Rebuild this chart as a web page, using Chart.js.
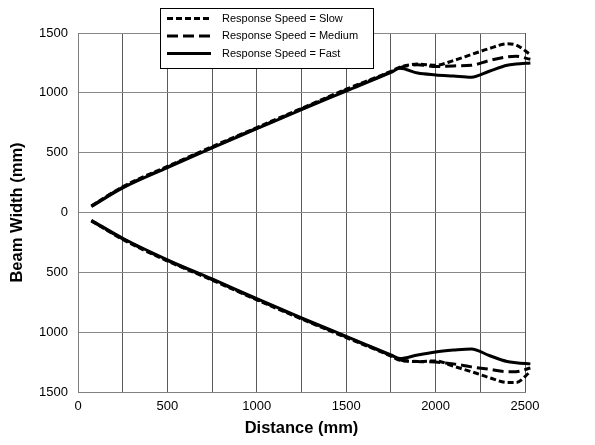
<!DOCTYPE html>
<html>
<head>
<meta charset="utf-8">
<script src="https://cdn.jsdelivr.net/npm/chart.js@4"></script>
<style>
    html, body { margin: 0; padding: 0; background: #fff; }
    #wrap { width: 595px; height: 445px; }
</style>
</head>
<body>
<div id="wrap"><canvas id="beam" width="595" height="445"></canvas></div>
<script>
// distance (mm) where the curves were read
var distance = [75, 250, 500, 750, 1000, 1250, 1500, 1750, 1800, 1900, 2000, 2100, 2200, 2300, 2400, 2450, 2530];

// beam edge, positive side
var slowUpper   = [55, 215, 385, 550, 710, 870, 1030, 1180, 1215, 1240, 1230, 1270, 1320, 1370, 1410, 1400, 1320];
var mediumUpper = [55, 210, 380, 545, 705, 865, 1025, 1175, 1210, 1235, 1220, 1225, 1230, 1270, 1300, 1305, 1280];
var fastUpper   = [50, 205, 375, 540, 700, 860, 1015, 1170, 1205, 1165, 1150, 1140, 1130, 1180, 1230, 1240, 1250];

// beam edge, negative side
var slowLower   = [-70, -225, -405, -565, -730, -890, -1045, -1200, -1235, -1245, -1240, -1285, -1330, -1380, -1420, -1420, -1330];
var mediumLower = [-70, -220, -400, -560, -725, -885, -1040, -1195, -1230, -1245, -1250, -1265, -1290, -1310, -1330, -1330, -1300];
var fastLower   = [-65, -215, -395, -555, -720, -880, -1035, -1190, -1220, -1190, -1165, -1150, -1140, -1195, -1245, -1255, -1265];

var seriesNames = ["Response Speed = Slow", "Response Speed = Medium", "Response Speed = Fast"];
var xTicks = [0, 500, 1000, 1500, 2000, 2500];
var yTicks = [-1500, -1000, -500, 0, 500, 1000, 1500];

var dashes = [[6, 3], [11, 5], []];
var FONT = "'Liberation Sans', Arial, sans-serif";

function pts(ys) {
    var out = [];
    for (var i = 0; i < ys.length; i++) out.push({x: distance[i], y: ys[i]});
    return out;
}

function makeSet(label, ys, dash, legend) {
    return {
        label: label,
        data: pts(ys),
        borderColor: "#000",
        borderWidth: 3,
        borderDash: dash,
        pointRadius: 0,
        fill: false,
        cubicInterpolationMode: "monotone",
        clip: false,
        inLegend: legend
    };
}

var datasets = [
    makeSet(seriesNames[0], slowUpper, dashes[0], true),
    makeSet(seriesNames[1], mediumUpper, dashes[1], true),
    makeSet(seriesNames[2], fastUpper, dashes[2], true),
    makeSet(seriesNames[0], slowLower, dashes[0], false),
    makeSet(seriesNames[1], mediumLower, dashes[1], false),
    makeSet(seriesNames[2], fastLower, dashes[2], false)
];

// boxed legend sitting over the top of the plot
var boxLegend = {
    id: "boxLegend",
    afterDraw: function (chart) {
        var ctx = chart.ctx;
        var x0 = 160, y0 = 8, w = 213, h = 60;
        ctx.save();
        ctx.fillStyle = "#fff";
        ctx.fillRect(x0, y0, w, h);
        ctx.strokeStyle = "#000";
        ctx.lineWidth = 1;
        ctx.strokeRect(x0 + 0.5, y0 + 0.5, w, h);
        ctx.font = "11px " + FONT;
        ctx.textBaseline = "middle";
        var row = 0;
        chart.data.datasets.forEach(function (ds) {
            if (!ds.inLegend) return;
            var cy = y0 + 10.5 + row * 17.5;
            ctx.beginPath();
            ctx.setLineDash(ds.borderDash);
            ctx.lineWidth = 3;
            ctx.strokeStyle = "#000";
            ctx.moveTo(x0 + 7, cy);
            ctx.lineTo(x0 + 51, cy);
            ctx.stroke();
            ctx.setLineDash([]);
            ctx.fillStyle = "#000";
            ctx.fillText(ds.label, x0 + 62, cy);
            row++;
        });
        ctx.restore();
    }
};

var ctx = document.getElementById("beam").getContext("2d");
new Chart(ctx, {
    type: "line",
    data: { datasets: datasets },
    plugins: [boxLegend],
    options: {
        responsive: false,
        animation: false,
        layout: { padding: { top: 33, right: 70, left: 0, bottom: 0 } },
        plugins: { legend: { display: false }, tooltip: { enabled: false } },
        scales: {
            x: {
                type: "linear",
                min: 0,
                max: 2500,
                afterFit: function (s) { s.height = 53; },
                afterBuildTicks: function (s) {
                    var t = [];
                    for (var v = 0; v <= 2500; v += 250) t.push({value: v});
                    s.ticks = t;
                },
                ticks: {
                    color: "#000",
                    font: { family: FONT, size: 13 },
                    padding: 7,
                    maxRotation: 0,
                    autoSkip: false,
                    callback: function (v) { return xTicks.indexOf(v) >= 0 ? String(v) : ""; }
                },
                grid: { color: "#5a5a5a", lineWidth: 1, drawTicks: false },
                border: { color: "#808080" },
                title: {
                    display: true,
                    text: "Distance (mm)",
                    color: "#000",
                    font: { family: FONT, size: 16.5, weight: "bold" },
                    padding: { top: 8, bottom: 7 }
                }
            },
            y: {
                type: "linear",
                min: -1500,
                max: 1500,
                afterFit: function (s) { s.width = 78; },
                afterBuildTicks: function (s) {
                    s.ticks = yTicks.map(function (v) { return {value: v}; });
                },
                ticks: {
                    color: "#000",
                    font: { family: FONT, size: 13 },
                    padding: 10,
                    callback: function (v) { return String(Math.abs(v)); }
                },
                grid: { color: "#888", lineWidth: 1, drawTicks: false },
                border: { color: "#808080" },
                title: {
                    display: true,
                    text: "Beam Width (mm)",
                    color: "#000",
                    font: { family: FONT, size: 16.5, weight: "bold" },
                    padding: { top: 8 }
                }
            }
        }
    }
});
</script>
</body>
</html>
